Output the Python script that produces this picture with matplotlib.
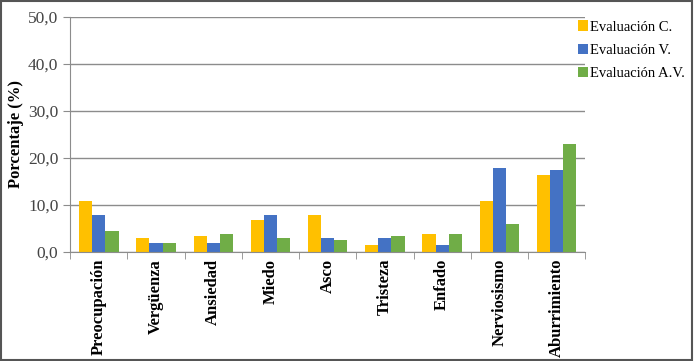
import matplotlib.pyplot as plt
import numpy as np
from matplotlib.patches import Rectangle
from matplotlib.ticker import FuncFormatter

categorias = ['Preocupación', 'Vergüenza', 'Ansiedad', 'Miedo', 'Asco',
              'Tristeza', 'Enfado', 'Nerviosismo', 'Aburrimiento']
eval_c = [10.9, 2.9, 3.4, 6.8, 7.9, 1.5, 3.8, 10.8, 16.3]
eval_v = [7.9, 1.9, 1.9, 7.9, 2.9, 2.9, 1.5, 17.8, 17.4]
eval_av = [4.5, 1.9, 3.8, 2.9, 2.5, 3.4, 3.8, 5.9, 23.0]
series = ['Evaluación C.', 'Evaluación V.', 'Evaluación A.V.']

plt.rcParams['font.family'] = ['Liberation Serif', 'DejaVu Serif']

fig = plt.figure(figsize=(6.95, 3.61), dpi=100)
ax = fig.add_axes([0.101, 0.302, 0.741, 0.651])

x = np.arange(len(categorias))
w = 0.23
ax.bar(x - w, eval_c, w, color='#FFC000', label=series[0])
ax.bar(x, eval_v, w, color='#4472C4', label=series[1])
ax.bar(x + w, eval_av, w, color='#70AD47', label=series[2])

ax.set_xlim(-0.5, len(categorias) - 0.5)
ax.set_ylim(0, 50)
ax.set_yticks(np.arange(0, 51, 10))
ax.yaxis.set_major_formatter(FuncFormatter(lambda v, p: f'{v:.1f}'.replace('.', ',')))
ax.yaxis.grid(True, color='#8c8c8c', linewidth=1)
ax.set_axisbelow(True)

ax.set_xticks(x)
ax.set_xticklabels(categorias, rotation=90, fontweight='bold', fontsize=12)
ax.set_xticks(np.arange(-0.5, len(categorias)), minor=True)
ax.tick_params(axis='x', which='major', length=0, pad=5)
ax.tick_params(axis='x', which='minor', length=5, color='#8c8c8c')
ax.tick_params(axis='y', length=5, color='#8c8c8c', labelsize=12.5, labelcolor='#444444')

for s in ['top', 'right']:
    ax.spines[s].set_visible(False)
ax.spines['left'].set_color('#8c8c8c')
ax.spines['bottom'].set_color('#8c8c8c')

ax.set_ylabel('Porcentaje (%)', fontweight='bold', fontsize=12, labelpad=3)

ax.legend(loc='upper left', bbox_to_anchor=(0.975, 1.01), frameon=False,
          fontsize=10.5, handlelength=0.7, handleheight=0.7, handletextpad=0.1,
          labelspacing=0.7, borderaxespad=0)

fig.patches.append(Rectangle((0.002, 0.002), 0.994, 0.994, transform=fig.transFigure,
                             fill=False, edgecolor='#555555', linewidth=1.5))

fig.savefig('out.png', dpi=100)
